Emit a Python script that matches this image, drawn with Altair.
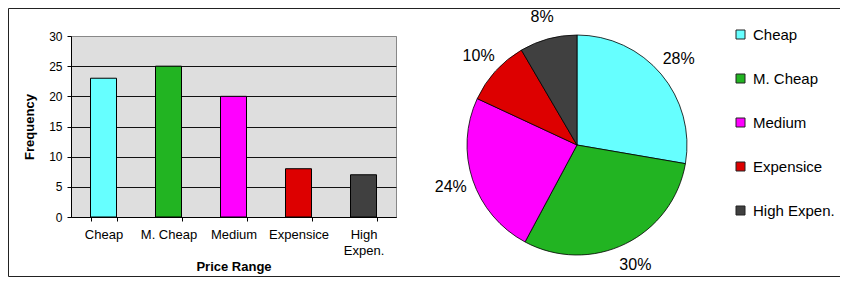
import altair as alt
import pandas as pd

categories = ["Cheap", "M. Cheap", "Medium", "Expensice", "High Expen."]
frequencies = [23, 25, 20, 8, 7]
colors = ["#66FFFF", "#22B422", "#FF00FF", "#DD0000", "#404040"]
y_ticks = [0, 5, 10, 15, 20, 25, 30]

df = pd.DataFrame({"cat": categories, "freq": frequencies, "idx": list(range(len(categories)))})

FONT = "Liberation Sans"

color = alt.Color(
    "cat:N",
    scale=alt.Scale(domain=categories, range=colors),
    legend=alt.Legend(
        title=None, orient="none", legendX=662, legendY=-9,
        symbolType="square", symbolSize=81, symbolStrokeColor="#222222",
        symbolStrokeWidth=1, symbolOpacity=1,
        labelFontSize=15, labelFont=FONT, labelColor="black",
        rowPadding=28, labelOffset=5, padding=0,
    ),
)

bars = alt.Chart(df).mark_bar(stroke="black", strokeWidth=1).encode(
    x=alt.X(
        "cat:N", sort=categories,
        scale=alt.Scale(paddingInner=0.6, paddingOuter=0.3),
        axis=alt.Axis(
            title="Price Range", tickBand="extent", labelAngle=0,
            labelExpr="datum.label == 'High Expen.' ? ['High', 'Expen.'] : datum.label",
            labelFontSize=13, labelLineHeight=16, tickSize=4, labelPadding=7,
            titleFontSize=13, titleFontWeight="bold", titlePadding=3,
            grid=False,
        ),
    ),
    y=alt.Y(
        "freq:Q",
        scale=alt.Scale(domain=[0, 30], nice=False),
        axis=alt.Axis(
            values=y_ticks, title="Frequency", labelFontSize=12,
            tickSize=4, labelPadding=5, titleFontSize=13, titleFontWeight="bold",
            titlePadding=12, grid=True,
            gridColor={"condition": {"test": "datum.value === 30", "value": "#888888"}, "value": "#111111"},
            gridWidth=1,
        ),
    ),
    color=color,
)

pie = alt.Chart(df).mark_arc(outerRadius=110, stroke="black", strokeWidth=0.8).encode(
    theta=alt.Theta("freq:Q", stack=True),
    color=color,
    order=alt.Order("idx:Q"),
    x=alt.value(506),
    y=alt.value(109),
)

pie_labels = alt.Chart(df).transform_joinaggregate(
    total="sum(freq)"
).transform_calculate(
    pct="round(datum.freq / datum.total * 100) + '%'"
).mark_text(radius=133, fontSize=16, font=FONT, color="black").encode(
    theta=alt.Theta("freq:Q", stack=True),
    order=alt.Order("idx:Q"),
    text="pct:N",
    x=alt.value(506),
    y=alt.value(109),
)

frame_src = alt.Data(values=[{"a": 1}])
frame_top = alt.Chart(frame_src).mark_rule(stroke="#222222", strokeWidth=1).encode(
    x=alt.value(-62.5), x2=alt.value(769), y=alt.value(-27.5),
)
frame_bottom = alt.Chart(frame_src).mark_rule(stroke="#222222", strokeWidth=1).encode(
    x=alt.value(-62.5), x2=alt.value(769), y=alt.value(240.5),
)
frame_left = alt.Chart(frame_src).mark_rule(stroke="#222222", strokeWidth=1).encode(
    x=alt.value(-62.5), y=alt.value(-27.5), y2=alt.value(240.5),
)

chart = alt.layer(frame_top, frame_bottom, frame_left, bars, pie, pie_labels).properties(
    width=325, height=181,
    padding={"left": 63, "top": 28, "right": 444, "bottom": 60},
    autosize=alt.AutoSizeParams(type="none"),
    background="white",
).configure(font=FONT).configure_view(
    fill="#DEDEDE", stroke="#888888", strokeWidth=1
).configure_axis(
    domainColor="black", tickColor="black", labelColor="black", titleColor="black",
    labelFont=FONT, titleFont=FONT,
)

chart.save("out.html", embed_options={"renderer": "svg", "actions": False})
